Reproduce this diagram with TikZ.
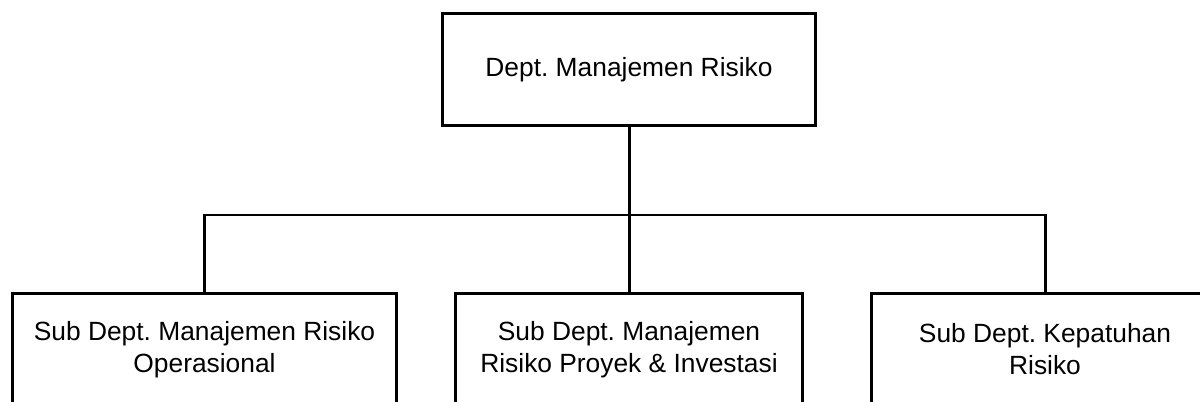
\documentclass[tikz,border=0pt]{standalone}
\usepackage{fontspec}
\setmainfont{Liberation Sans}
\usepackage{tikz}
\frenchspacing

\begin{document}
\begin{tikzpicture}[x=0.02cm,y=-0.02cm,
  unit/.style={draw,line width=1.7pt,align=center,minimum height=2.26cm,
    font=\fontsize{15}{18.2}\selectfont,inner sep=0pt},
  link/.style={line width=1.7pt}]
\useasboundingbox (0,0) rectangle (1200,402);
\clip (0,0) rectangle (1200,402);
\node[unit,minimum width=7.48cm] (dept) at (629,69.5) {Dept. Manajemen Risiko};
\node[unit,minimum width=7.7cm] (opr) at (204.5,349.5) {Sub Dept. Manajemen Risiko\\Operasional};
\node[unit,minimum width=6.96cm] (proj) at (629,349.5) {Sub Dept. Manajemen\\Risiko Proyek \& Investasi};
\node[unit,minimum width=6.96cm] (comp) at (1045,349.5) {Sub Dept. Kepatuhan\\Risiko};
\coordinate (bus) at (629,215);
\draw[link] (dept.south) -- (bus);
\draw[link] (opr.north) |- (bus) -| (comp.north);
\draw[link] (bus) -- (proj.north);
\end{tikzpicture}
\end{document}
